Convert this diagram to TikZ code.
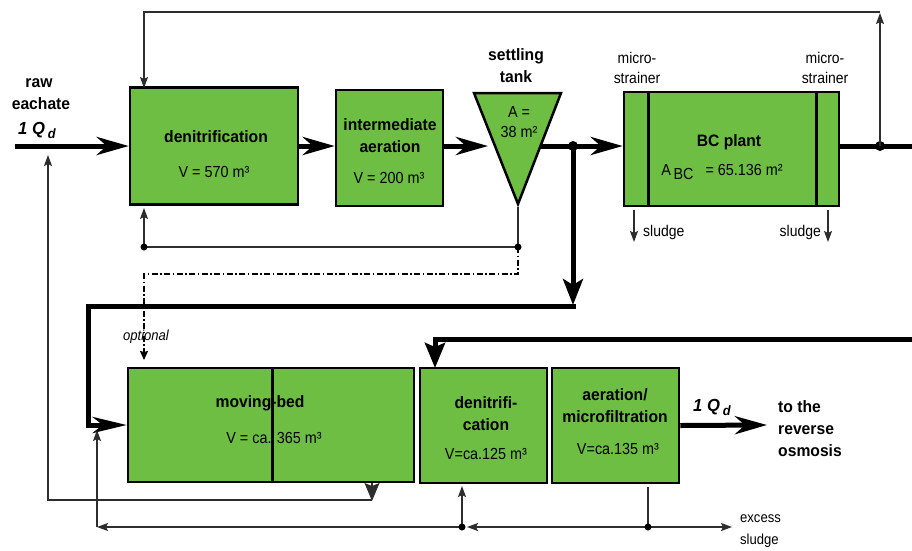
\documentclass[tikz,border=0pt]{standalone}
\usepackage{fontspec}
\setmainfont{Liberation Sans}
\newfontfamily\rnarrow[FakeStretch=0.9]{Liberation Sans}
\newfontfamily\bnarrow[FakeStretch=0.95]{Liberation Sans}
\usetikzlibrary{arrows.meta}
\definecolor{boxgreen}{RGB}{110,190,68}
\definecolor{thingray}{RGB}{45,45,45}
\begin{document}
\begin{tikzpicture}[x=1pt,y=-1pt,
  box/.style={draw=black, fill=boxgreen, line width=2.5pt, inner sep=0pt},
  flow/.style={line width=5pt, draw=black, line join=miter},
  bighead/.style={-{Stealth[length=32pt,width=18pt,inset=10pt]}},
  thinline/.style={line width=1.2pt, draw=thingray},
  thinhead/.style={-{Stealth[length=11pt,width=8pt,inset=2pt]}},
  ddline/.style={line width=1.5pt, draw=black, dash pattern=on 6pt off 2.5pt on 1.5pt off 2.5pt},
  jdot/.style={circle, fill=black, inner sep=0pt, minimum size=#1},
  jdot/.default=8pt,
  bl/.style={font=\bnarrow\fontsize{16.5}{22}\selectfont\bfseries, align=center, inner sep=0pt},
  rl/.style={font=\rnarrow\fontsize{16}{20}\selectfont, align=center, inner sep=0pt},
  sl/.style={font=\rnarrow\fontsize{15.5}{20}\selectfont, align=center, inner sep=0pt},
]
\useasboundingbox (0,0) rectangle (912,550);

% ---------- coordinates ----------
\coordinate (inlet) at (15,146);
\coordinate (setin) at (488,146);
\coordinate (setout) at (540,146);
\coordinate (j1) at (573,146);
\coordinate (outR) at (912,146);
\coordinate (jbc) at (880,146);
\coordinate (topR) at (880,12);
\coordinate (topRa) at (880,13);
\coordinate (topL) at (144,12);
\coordinate (den1top) at (144,88);
\coordinate (stA) at (474,93);
\coordinate (stB) at (561,93);
\coordinate (stC) at (518,204);
\coordinate (stbot) at (518,207);
\coordinate (j2) at (518,247);
\coordinate (j3) at (144,247);
\coordinate (den1bot) at (144,208);
\coordinate (dd1) at (518,274);
\coordinate (dd2) at (144,274);
\coordinate (ddend) at (144,360);
\coordinate (mbdown) at (573,305);
\coordinate (mbs) at (575.5,306);
\coordinate (mbc1) at (88,306);
\coordinate (mbc2) at (88,425);
\coordinate (rr1) at (912,339);
\coordinate (rr2) at (435,339);
\coordinate (den2top) at (435,368);
\coordinate (mbbot) at (372,483);
\coordinate (mbl) at (372,501);
\coordinate (ml1) at (372,500);
\coordinate (ml2) at (48,500);
\coordinate (ml3) at (48,155);
\coordinate (jA) at (462,527);
\coordinate (jAa) at (467,527);
\coordinate (jB) at (648,527);
\coordinate (aerbot) at (648,487);
\coordinate (den2bot) at (462,486);
\coordinate (excess) at (732,527);
\coordinate (bl1) at (97,527);
\coordinate (bl2) at (97,430);
\coordinate (outend) at (767,425);
\coordinate (sl1a) at (634,210);
\coordinate (sl1b) at (634,242);
\coordinate (sl2a) at (828,210);
\coordinate (sl2b) at (828,242);

% ---------- boxes ----------
\node[box, minimum width=168pt, minimum height=117pt] (den1) at (214,146) {};
\node[box, minimum width=107pt, minimum height=116pt] (inter) at (389.5,148) {};
\filldraw[fill=boxgreen, draw=black, line width=2.5pt, line join=miter] (stA) -- (stB) -- (stC) -- cycle;
\node[box, minimum width=215pt, minimum height=114pt] (bc) at (731.5,149) {};
\draw[line width=3pt] (648,92) -- (648,206);
\draw[line width=3pt] (816,92) -- (816,206);
\node[box, minimum width=286pt, minimum height=114pt] (mb) at (271,425) {};
\draw[line width=3pt] (272,368) -- (272,482);
\node[box, minimum width=127pt, minimum height=115pt] (den2) at (483.5,425.5) {};
\node[box, minimum width=127pt, minimum height=115pt] (aer) at (615.5,425.5) {};

% ---------- main flow ----------
\draw[flow, bighead] (inlet) -- (den1.west);
\draw[flow, bighead] (den1.east) -- (inter.west |- den1.east);
\draw[flow, bighead] (inter.east |- setin) -- (setin);
\draw[flow] (setout) -- (j1);
\draw[flow, bighead] (j1) -- (bc.west |- j1);
\draw[flow] (bc.east |- outR) -- (outR);
\node[jdot=10pt] at (j1) {};
\node[jdot=10pt] at (jbc) {};

% to moving bed
\draw[flow, -{Stealth[length=26pt,width=20pt,inset=6pt]}] (j1) -- (mbdown);
\draw[flow, -{Stealth[length=34pt,width=16pt,inset=10pt]}] (mbs) -- (mbc1) -- (mbc2) -- (mb.west);
% recycle into denitrification 2
\draw[flow, -{Stealth[length=25pt,width=20pt,inset=4pt]}] (rr1) -- (rr2) -- (den2top);
% output
\draw[flow, bighead] (aer.east) -- (outend);

% ---------- thin lines ----------
\draw[thinline, thinhead] (jbc) -- (topRa);
\draw[thinline, thinhead] (topR) -- (topL) -- (den1top);
\draw[thinline] (stbot) -- (j2);
\draw[thinline, thinhead] (j2) -- (j3) -- (den1bot);
\node[jdot=7pt] at (j2) {};
\node[jdot=7pt] at (j3) {};
\draw[ddline, -{Stealth[length=9pt,width=8pt,inset=1pt]}] (j2) -- (dd1) -- (dd2) -- (ddend);

\draw[thinline, thinhead] (sl1a) -- (sl1b);
\draw[thinline, thinhead] (sl2a) -- (sl2b);

\draw[thinline, -{Stealth[length=18pt,width=15pt,inset=3pt]}] (mbbot) -- (mbl);
\draw[thinline, thinhead] (ml1) -- (ml2) -- (ml3);
\draw[thinline] (aerbot) -- (jB);
\draw[thinline, thinhead] (jB) -- (jAa);
\draw[thinline, thinhead] (jB) -- (excess);
\draw[thinline, thinhead] (jA) -- (den2bot);
\draw[thinline, thinhead] (jA) -- (bl1);
\draw[thinline, thinhead] (bl1) -- (bl2);
\node[jdot=7pt] at (jA) {};
\node[jdot=7pt] at (jB) {};

% ---------- texts ----------
\node[bl] (traw) at (39,83) {raw};
\node[bl] (teach) at (41,104) {eachate};
\node[bl, font=\bnarrow\fontsize{17.5}{20}\selectfont\bfseries\itshape] (tq1) at (37,130) {1 Q\kern3pt\raisebox{-4pt}{\fontsize{13.5}{13}\selectfont d}};

\node[bl] (t1) at (216,137) {denitrification};
\node[rl] (t2) at (214,172) {V = 570 m³};

\node[bl] (t3) at (390,136) {intermediate\\aeration};
\node[rl] (t4) at (389,178) {V = 200 m³};

\node[bl] (t5) at (516,66) {settling\\tank};
\node[rl] (t6) at (519,122) {A =\\38 m²};

\node[sl] (t7) at (637,68) {micro-\\strainer};
\node[sl] (t8) at (825,68) {micro-\\strainer};
\node[bl] (t9) at (729,142) {BC plant};
\node[rl] (t10) at (722,172) {A\raisebox{-4pt}{\,BC}\hspace{12pt}= 65.136 m²};
\node[sl, anchor=west] (t11) at (643,232) {sludge};
\node[sl, anchor=east] (t12) at (821,232) {sludge};

\node[font=\rnarrow\fontsize{14.5}{16}\selectfont\itshape, inner sep=0pt] (topt) at (146,337) {optional};

\node[bl] (t13) at (260,403) {moving-bed};
\node[rl] (t14) at (274,438) {V = ca. 365 m³};

\node[bl] (t15) at (486,414) {denitrifi-\\cation};
\node[rl] (t16) at (486,454) {V=ca.125 m³};

\node[bl] (t17) at (615,406) {aeration/\\microfiltration};
\node[rl] (t18) at (618,449) {V=ca.135 m³};

\node[bl, font=\bnarrow\fontsize{17.5}{20}\selectfont\bfseries\itshape] (tq2) at (712,407) {1 Q\kern3pt\raisebox{-4pt}{\fontsize{13.5}{13}\selectfont d}};
\node[bl, align=left, anchor=west] (t19) at (778,429) {to the\\reverse\\osmosis};
\node[sl, align=left, anchor=west, font=\rnarrow\fontsize{14.5}{22}\selectfont] (t20) at (740,531) {excess\\sludge};
\end{tikzpicture}
\end{document}
